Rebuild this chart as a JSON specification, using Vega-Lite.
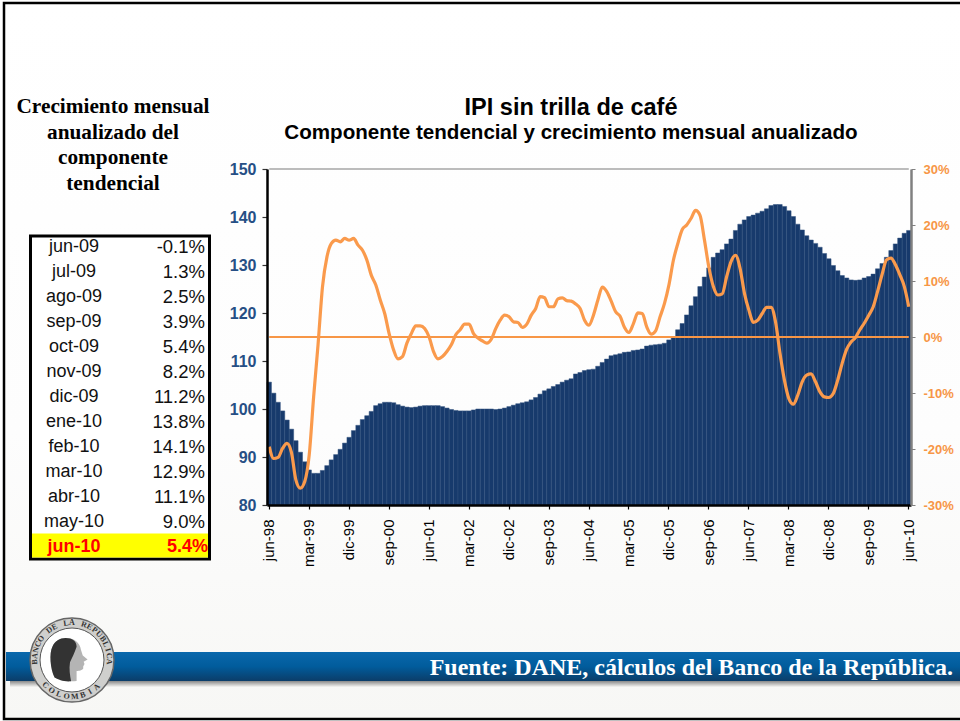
{"$schema":"https://vega.github.io/schema/vega-lite/v6.json","width":960,"height":721,"autosize":"none","padding":0,"background":"white","config":{"view":{"stroke":null},"font":"Liberation Sans"},
"datasets":{
"one":[{"k":"a"}],
"serie":[
{"m":"jun-98","ipi":105.6,"g":-19.6},{"m":"jul-98","ipi":103.3,"g":-21.7},{"m":"ago-98","ipi":101.4,"g":-21.5},{"m":"sep-98","ipi":99.6,"g":-19.9},{"m":"oct-98","ipi":97.7,"g":-19.0},{"m":"nov-98","ipi":95.8,"g":-20.6},{"m":"dic-98","ipi":93.4,"g":-25.5},{"m":"ene-99","ipi":91.0,"g":-27.0},{"m":"feb-99","ipi":89.0,"g":-25.8},{"m":"mar-99","ipi":87.3,"g":-21.1},{"m":"abr-99","ipi":86.6,"g":-10.7},{"m":"may-99","ipi":86.6,"g":-1.3},
{"m":"jun-99","ipi":87.2,"g":9.0},{"m":"jul-99","ipi":88.2,"g":14.3},{"m":"ago-99","ipi":89.4,"g":16.7},{"m":"sep-99","ipi":90.5,"g":17.3},{"m":"oct-99","ipi":91.6,"g":17.0},{"m":"nov-99","ipi":92.9,"g":17.6},{"m":"dic-99","ipi":94.1,"g":17.3},{"m":"ene-00","ipi":95.5,"g":17.6},{"m":"feb-00","ipi":96.6,"g":16.4},{"m":"mar-00","ipi":97.8,"g":15.5},{"m":"abr-00","ipi":98.6,"g":13.7},{"m":"may-00","ipi":99.5,"g":11.0},
{"m":"jun-00","ipi":100.7,"g":9.3},{"m":"jul-00","ipi":101.1,"g":6.6},{"m":"ago-00","ipi":101.4,"g":4.2},{"m":"sep-00","ipi":101.4,"g":0.6},{"m":"oct-00","ipi":101.3,"g":-2.3},{"m":"nov-00","ipi":100.9,"g":-3.9},{"m":"dic-00","ipi":100.6,"g":-3.5},{"m":"ene-01","ipi":100.4,"g":-1.1},{"m":"feb-01","ipi":100.3,"g":0.6},{"m":"mar-01","ipi":100.4,"g":2.0},{"m":"abr-01","ipi":100.6,"g":2.0},{"m":"may-01","ipi":100.7,"g":1.5},
{"m":"jun-01","ipi":100.7,"g":0.0},{"m":"jul-01","ipi":100.7,"g":-2.6},{"m":"ago-01","ipi":100.7,"g":-3.9},{"m":"sep-01","ipi":100.5,"g":-3.5},{"m":"oct-01","ipi":100.2,"g":-2.6},{"m":"nov-01","ipi":99.9,"g":-1.4},{"m":"dic-01","ipi":99.7,"g":0.4},{"m":"ene-02","ipi":99.6,"g":1.3},{"m":"feb-02","ipi":99.6,"g":2.3},{"m":"mar-02","ipi":99.6,"g":2.3},{"m":"abr-02","ipi":99.8,"g":0.6},{"m":"may-02","ipi":100.0,"g":-0.2},
{"m":"jun-02","ipi":100.0,"g":-0.7},{"m":"jul-02","ipi":100.0,"g":-1.1},{"m":"ago-02","ipi":100.0,"g":-0.4},{"m":"sep-02","ipi":99.9,"g":1.5},{"m":"oct-02","ipi":100.0,"g":3.0},{"m":"nov-02","ipi":100.2,"g":3.9},{"m":"dic-02","ipi":100.5,"g":3.6},{"m":"ene-03","ipi":100.8,"g":2.7},{"m":"feb-03","ipi":101.1,"g":2.6},{"m":"mar-03","ipi":101.3,"g":1.7},{"m":"abr-03","ipi":101.5,"g":2.3},{"m":"may-03","ipi":101.9,"g":3.9},
{"m":"jun-03","ipi":102.4,"g":5.1},{"m":"jul-03","ipi":103.1,"g":7.2},{"m":"ago-03","ipi":103.8,"g":7.0},{"m":"sep-03","ipi":104.2,"g":5.4},{"m":"oct-03","ipi":104.7,"g":5.4},{"m":"nov-03","ipi":105.1,"g":6.8},{"m":"dic-03","ipi":105.6,"g":7.0},{"m":"ene-04","ipi":106.0,"g":6.5},{"m":"feb-04","ipi":106.3,"g":6.4},{"m":"mar-04","ipi":107.3,"g":5.9},{"m":"abr-04","ipi":107.6,"g":5.1},{"m":"may-04","ipi":108.0,"g":3.0},
{"m":"jun-04","ipi":108.2,"g":2.1},{"m":"jul-04","ipi":108.3,"g":3.9},{"m":"ago-04","ipi":108.9,"g":6.6},{"m":"sep-04","ipi":109.7,"g":8.9},{"m":"oct-04","ipi":110.4,"g":8.1},{"m":"nov-04","ipi":111.1,"g":6.4},{"m":"dic-04","ipi":111.3,"g":4.5},{"m":"ene-05","ipi":111.5,"g":3.7},{"m":"feb-05","ipi":111.8,"g":1.7},{"m":"mar-05","ipi":111.9,"g":0.8},{"m":"abr-05","ipi":112.2,"g":2.4},{"m":"may-05","ipi":112.3,"g":4.3},
{"m":"jun-05","ipi":112.5,"g":4.2},{"m":"jul-05","ipi":113.1,"g":1.8},{"m":"ago-05","ipi":113.3,"g":0.5},{"m":"sep-05","ipi":113.4,"g":1.1},{"m":"oct-05","ipi":113.5,"g":3.6},{"m":"nov-05","ipi":113.7,"g":6.0},{"m":"dic-05","ipi":114.4,"g":9.3},{"m":"ene-06","ipi":115.1,"g":13.7},{"m":"feb-06","ipi":116.5,"g":16.7},{"m":"mar-06","ipi":117.8,"g":19.2},{"m":"abr-06","ipi":119.6,"g":20.0},{"m":"may-06","ipi":121.5,"g":21.2},
{"m":"jun-06","ipi":123.4,"g":22.6},{"m":"jul-06","ipi":125.5,"g":21.7},{"m":"ago-06","ipi":127.5,"g":17.3},{"m":"sep-06","ipi":129.4,"g":12.4},{"m":"oct-06","ipi":131.6,"g":9.0},{"m":"nov-06","ipi":132.5,"g":7.5},{"m":"dic-06","ipi":133.2,"g":7.7},{"m":"ene-07","ipi":134.4,"g":10.8},{"m":"feb-07","ipi":135.4,"g":13.5},{"m":"mar-07","ipi":137.2,"g":14.6},{"m":"abr-07","ipi":138.5,"g":12.3},{"m":"may-07","ipi":139.4,"g":7.8},
{"m":"jun-07","ipi":140.1,"g":4.8},{"m":"jul-07","ipi":140.4,"g":2.6},{"m":"ago-07","ipi":140.8,"g":3.0},{"m":"sep-07","ipi":141.2,"g":4.2},{"m":"oct-07","ipi":141.7,"g":5.3},{"m":"nov-07","ipi":142.4,"g":5.3},{"m":"dic-07","ipi":142.6,"g":2.7},{"m":"ene-08","ipi":142.6,"g":-2.9},{"m":"feb-08","ipi":142.2,"g":-7.7},{"m":"mar-08","ipi":141.3,"g":-11.0},{"m":"abr-08","ipi":140.1,"g":-12.0},{"m":"may-08","ipi":138.5,"g":-10.4},
{"m":"jun-08","ipi":137.3,"g":-8.0},{"m":"jul-08","ipi":136.1,"g":-6.8},{"m":"ago-08","ipi":135.2,"g":-6.6},{"m":"sep-08","ipi":134.5,"g":-8.0},{"m":"oct-08","ipi":133.7,"g":-9.8},{"m":"nov-08","ipi":132.4,"g":-10.7},{"m":"dic-08","ipi":131.3,"g":-10.8},{"m":"ene-09","ipi":129.9,"g":-10.1},{"m":"feb-09","ipi":128.8,"g":-7.7},{"m":"mar-09","ipi":127.8,"g":-4.7},{"m":"abr-09","ipi":127.3,"g":-2.2},{"m":"may-09","ipi":126.9,"g":-0.9},
{"m":"jun-09","ipi":126.8,"g":-0.1},{"m":"jul-09","ipi":126.9,"g":1.3},{"m":"ago-09","ipi":127.3,"g":2.5},{"m":"sep-09","ipi":127.6,"g":3.9},{"m":"oct-09","ipi":128.1,"g":5.4},{"m":"nov-09","ipi":129.2,"g":8.2},{"m":"dic-09","ipi":130.3,"g":11.2},{"m":"ene-10","ipi":131.6,"g":13.8},{"m":"feb-10","ipi":133.0,"g":14.1},{"m":"mar-10","ipi":134.4,"g":12.9},{"m":"abr-10","ipi":135.6,"g":11.1},{"m":"may-10","ipi":136.6,"g":9.0},{"m":"jun-10","ipi":137.2,"g":5.4}],
"tabla":[{"mes":"jun-09","v":"-0.1%"},{"mes":"jul-09","v":"1.3%"},{"mes":"ago-09","v":"2.5%"},{"mes":"sep-09","v":"3.9%"},{"mes":"oct-09","v":"5.4%"},{"mes":"nov-09","v":"8.2%"},{"mes":"dic-09","v":"11.2%"},{"mes":"ene-10","v":"13.8%"},{"mes":"feb-10","v":"14.1%"},{"mes":"mar-10","v":"12.9%"},{"mes":"abr-10","v":"11.1%"},{"mes":"may-10","v":"9.0%"},{"mes":"jun-10","v":"5.4%"}],
"cab":[{"t":"Crecimiento mensual"},{"t":"anualizado del"},{"t":"componente"},{"t":"tendencial"}],
"arco1":[{"c":"B","i":0},{"c":"A","i":1},{"c":"N","i":2},{"c":"C","i":3},{"c":"O","i":4},{"c":"D","i":6},{"c":"E","i":7},{"c":"L","i":9},{"c":"A","i":10},{"c":"R","i":12},{"c":"E","i":13},{"c":"P","i":14},{"c":"Ú","i":15},{"c":"B","i":16},{"c":"L","i":17},{"c":"I","i":18},{"c":"C","i":19},{"c":"A","i":20}],
"arco2":[{"c":"C","i":0},{"c":"O","i":1},{"c":"L","i":2},{"c":"O","i":3},{"c":"M","i":4},{"c":"B","i":5},{"c":"I","i":6},{"c":"A","i":7}]
},
"resolve":{"scale":{"x":"independent","y":"independent","theta":"independent","angle":"independent"}},
"layer":[
{"data":{"name":"one"},"mark":{"type":"rect","stroke":"#000000","strokeWidth":2.5,"fill":{"gradient":"linear","x1":0,"y1":0,"x2":0,"y2":1,"stops":[{"offset":0,"color":"#ffffff"},{"offset":0.6,"color":"#fdfdfd"},{"offset":1,"color":"#f7f7f5"}]}},"encoding":{"x":{"field":"k","type":"nominal","axis":null,"scale":{"type":"band","padding":0,"range":[4,1010]}},"y":{"field":"k","type":"nominal","axis":null,"scale":{"type":"band","padding":0,"range":[3,719]}}}},
{"data":{"name":"one"},"mark":{"type":"rect","fill":{"gradient":"linear","x1":0,"y1":0,"x2":0,"y2":1,"stops":[{"offset":0,"color":"#777777"},{"offset":1,"color":"#f5f5f3"}]}},"encoding":{"x":{"field":"k","type":"nominal","axis":null,"scale":{"type":"band","padding":0,"range":[10,1010]}},"y":{"field":"k","type":"nominal","axis":null,"scale":{"type":"band","padding":0,"range":[680,687]}}}},
{"data":{"name":"one"},"mark":{"type":"rect","fill":{"gradient":"linear","x1":0,"y1":0,"x2":0,"y2":1,"stops":[{"offset":0,"color":"#0a68ac"},{"offset":0.5,"color":"#015c9c"},{"offset":1,"color":"#0b3d69"}]}},"encoding":{"x":{"field":"k","type":"nominal","axis":null,"scale":{"type":"band","padding":0,"range":[6,1010]}},"y":{"field":"k","type":"nominal","axis":null,"scale":{"type":"band","padding":0,"range":[652,681]}}}},
{"data":{"values":[{"t":"Fuente: DANE, cálculos del Banco de la República."}]},"mark":{"type":"text","font":"Liberation Serif","fontWeight":"bold","fontSize":24,"color":"#ffffff","align":"right","baseline":"middle"},"encoding":{"text":{"field":"t"},"x":{"field":"t","type":"nominal","axis":null,"scale":{"type":"band","padding":0,"range":[948,958]}},"y":{"field":"t","type":"nominal","axis":null,"scale":{"type":"band","padding":0,"range":[658,678]}}}},
{"data":{"name":"cab"},"mark":{"type":"text","font":"Liberation Serif","fontWeight":"bold","fontSize":21.3,"color":"#000000","baseline":"middle"},"encoding":{"text":{"field":"t"},"x":{"datum":"c","type":"nominal","axis":null,"scale":{"type":"band","padding":0,"domain":["c"],"range":[103,123]}},"y":{"field":"t","type":"nominal","sort":null,"axis":null,"scale":{"type":"band","padding":0,"range":[94,197]}}}},
{"data":{"name":"one"},"mark":{"type":"rect","fill":"#ffffff","stroke":"#000000","strokeWidth":3},"encoding":{"x":{"field":"k","type":"nominal","axis":null,"scale":{"type":"band","padding":0,"range":[30.5,209.5]}},"y":{"field":"k","type":"nominal","axis":null,"scale":{"type":"band","padding":0,"range":[236,559]}}}},
{"data":{"name":"tabla"},"transform":[{"filter":"datum.mes == 'jun-10'"}],"mark":{"type":"rect","fill":"#ffff00"},"encoding":{"x":{"datum":"c","type":"nominal","axis":null,"scale":{"type":"band","padding":0,"domain":["c"],"range":[32,208]}},"y":{"field":"mes","type":"nominal","axis":null,"scale":{"type":"band","padding":0,"range":[533.5,557.5]}}}},
{"data":{"name":"tabla"},"transform":[{"filter":"datum.mes != 'jun-10'"}],"mark":{"type":"text","fontSize":18,"color":"#111111","baseline":"middle"},"encoding":{"text":{"field":"mes"},"x":{"datum":"c","type":"nominal","axis":null,"scale":{"type":"band","padding":0,"domain":["c"],"range":[64,84]}},"y":{"field":"mes","type":"nominal","sort":null,"axis":null,"scale":{"type":"band","padding":0,"range":[234.5,534]}}}},
{"data":{"name":"tabla"},"transform":[{"filter":"datum.mes != 'jun-10'"}],"mark":{"type":"text","fontSize":18.5,"color":"#111111","baseline":"middle","align":"right"},"encoding":{"text":{"field":"v"},"x":{"datum":"c","type":"nominal","axis":null,"scale":{"type":"band","padding":0,"domain":["c"],"range":[200,210]}},"y":{"field":"mes","type":"nominal","sort":null,"axis":null,"scale":{"type":"band","padding":0,"range":[234.5,534]}}}},
{"data":{"name":"tabla"},"transform":[{"filter":"datum.mes == 'jun-10'"}],"mark":{"type":"text","fontSize":18,"fontWeight":"bold","color":"#ff0000","baseline":"middle"},"encoding":{"text":{"field":"mes"},"x":{"datum":"c","type":"nominal","axis":null,"scale":{"type":"band","padding":0,"domain":["c"],"range":[64,84]}},"y":{"field":"mes","type":"nominal","axis":null,"scale":{"type":"band","padding":0,"range":[534,559]}}}},
{"data":{"name":"tabla"},"transform":[{"filter":"datum.mes == 'jun-10'"}],"mark":{"type":"text","fontSize":18,"fontWeight":"bold","color":"#ff0000","baseline":"middle","align":"right"},"encoding":{"text":{"field":"v"},"x":{"datum":"c","type":"nominal","axis":null,"scale":{"type":"band","padding":0,"domain":["c"],"range":[203,213]}},"y":{"field":"mes","type":"nominal","axis":null,"scale":{"type":"band","padding":0,"range":[534,559]}}}},
{"data":{"values":[{"t":"IPI sin trilla de café"}]},"mark":{"type":"text","fontSize":23.5,"fontWeight":"bold","color":"#000000","baseline":"middle"},"encoding":{"text":{"field":"t"},"x":{"field":"t","type":"nominal","axis":null,"scale":{"type":"band","padding":0,"range":[561,581]}},"y":{"field":"t","type":"nominal","axis":null,"scale":{"type":"band","padding":0,"range":[98,118]}}}},
{"data":{"values":[{"t":"Componente tendencial y crecimiento mensual anualizado"}]},"mark":{"type":"text","fontSize":20.6,"fontWeight":"bold","color":"#000000","baseline":"middle"},"encoding":{"text":{"field":"t"},"x":{"field":"t","type":"nominal","axis":null,"scale":{"type":"band","padding":0,"range":[561,581]}},"y":{"field":"t","type":"nominal","axis":null,"scale":{"type":"band","padding":0,"range":[123,143]}}}},
{"data":{"name":"serie"},"mark":{"type":"line","color":"#a6a6a6","strokeWidth":1.5},"encoding":{"x":{"field":"m","type":"nominal","sort":null,"axis":null,"scale":{"type":"band","padding":0,"range":[267,911]}},"y":{"datum":150,"type":"quantitative","axis":null,"scale":{"domain":[80,150],"range":[505,169],"nice":false,"zero":false}}}},
{"data":{"name":"serie"},"mark":{"type":"bar","fill":"#173a6c","stroke":"#33527f","strokeWidth":0.5},"encoding":{"x":{"field":"m","type":"nominal","sort":null,"scale":{"type":"band","padding":0,"range":[267,911]},"axis":{"orient":"bottom","offset":-216,"title":null,"values":["jun-98","mar-99","dic-99","sep-00","jun-01","mar-02","dic-02","sep-03","jun-04","mar-05","dic-05","sep-06","jun-07","mar-08","dic-08","sep-09","jun-10"],"labelAngle":-90,"labelAlign":"right","labelBaseline":"middle","labelFontSize":15,"labelFont":"Liberation Sans","labelColor":"#000000","labelPadding":10,"labelOverlap":false,"labelBound":false,"labelFlush":false,"domainColor":"#000000","domainWidth":2.5,"tickColor":"#000000","tickSize":4,"tickWidth":1.2,"grid":false,"zindex":1}},"y":{"field":"ipi","type":"quantitative","scale":{"domain":[80,150],"range":[505,169],"nice":false,"zero":false,"clamp":true},"axis":{"orient":"left","offset":-267,"title":null,"values":[80,90,100,110,120,130,140,150],"labelFontSize":16,"labelFontWeight":"bold","labelFont":"Liberation Sans","labelColor":"#264f85","labelPadding":6,"labelBound":false,"labelFlush":false,"domainColor":"#000000","domainWidth":2.5,"tickColor":"#333333","tickSize":5,"tickWidth":1.2,"grid":false,"zindex":1}}}},
{"data":{"name":"serie"},"mark":{"type":"line","color":"#f79646","strokeWidth":2},"encoding":{"x":{"field":"m","type":"nominal","sort":null,"axis":null,"scale":{"type":"band","padding":0,"range":[267,911]}},"y":{"datum":0,"type":"quantitative","axis":null,"scale":{"domain":[-30,30],"range":[505,169],"nice":false,"zero":false}}}},
{"data":{"name":"serie"},"mark":{"type":"line","color":"#fa9a4c","strokeWidth":3.2,"interpolate":"monotone"},"encoding":{"x":{"field":"m","type":"nominal","sort":null,"axis":null,"scale":{"type":"band","padding":0,"range":[267,911]}},"y":{"field":"g","type":"quantitative","scale":{"domain":[-30,30],"range":[505,169],"nice":false,"zero":false},"axis":{"orient":"right","offset":-49,"title":null,"values":[-30,-20,-10,0,10,20,30],"labelExpr":"datum.value + '%'","labelFontSize":13,"labelFontWeight":"bold","labelFont":"Liberation Sans","labelColor":"#f79646","labelPadding":8,"labelBound":false,"labelFlush":false,"domainColor":"#808080","domainWidth":2.5,"tickColor":"#808080","tickSize":4,"tickWidth":1,"grid":false,"zindex":1}}}},
{"data":{"name":"one"},"mark":{"type":"point","shape":"circle","filled":true,"size":7056,"fill":"#cfcfcd","stroke":"#666666","strokeWidth":1.5,"opacity":1},"encoding":{"x":{"field":"k","type":"nominal","axis":null,"scale":{"type":"band","padding":0,"range":[62,82]}},"y":{"field":"k","type":"nominal","axis":null,"scale":{"type":"band","padding":0,"range":[650,670]}}}},
{"data":{"name":"one"},"mark":{"type":"point","shape":"circle","filled":true,"size":4096,"fill":"#ffffff","stroke":"#555555","strokeWidth":1,"opacity":1},"encoding":{"x":{"field":"k","type":"nominal","axis":null,"scale":{"type":"band","padding":0,"range":[62,82]}},"y":{"field":"k","type":"nominal","axis":null,"scale":{"type":"band","padding":0,"range":[650,670]}}}},
{"data":{"name":"one"},"mark":{"type":"point","filled":true,"opacity":1,"size":1936,"fill":"#b4b4b4","shape":"M -0.2 -1 C 0.2 -1 0.45 -0.8 0.5 -0.45 L 0.58 -0.2 L 0.8 -0.02 L 0.62 0.08 L 0.66 0.18 L 0.6 0.3 L 0.6 0.4 C 0.5 0.5 0.35 0.5 0.3 0.5 L 0.3 0.95 C 0 1 -0.4 0.95 -0.7 0.8 C -0.9 0.4 -0.95 -0.3 -0.8 -0.6 C -0.7 -0.85 -0.45 -1 -0.2 -1 Z"},"encoding":{"x":{"field":"k","type":"nominal","axis":null,"scale":{"type":"band","padding":0,"range":[60,80]}},"y":{"field":"k","type":"nominal","axis":null,"scale":{"type":"band","padding":0,"range":[650,670]}}}},
{"data":{"name":"one"},"mark":{"type":"point","filled":true,"opacity":1,"size":1936,"fill":"#333333","shape":"M -0.2 -1 C 0.1 -1 0.3 -0.85 0.3 -0.6 C 0.2 -0.3 0.1 -0.1 0 0.1 C -0.05 0.4 0 0.7 0.05 0.97 C -0.3 1 -0.5 0.9 -0.7 0.8 C -0.9 0.4 -0.95 -0.3 -0.8 -0.6 C -0.7 -0.85 -0.45 -1 -0.2 -1 Z"},"encoding":{"x":{"field":"k","type":"nominal","axis":null,"scale":{"type":"band","padding":0,"range":[60,80]}},"y":{"field":"k","type":"nominal","axis":null,"scale":{"type":"band","padding":0,"range":[650,670]}}}},
{"data":{"name":"arco1"},"mark":{"type":"text","font":"Liberation Serif","fontWeight":"bold","fontSize":8,"color":"#333333","baseline":"middle","radius":37},"encoding":{"text":{"field":"c"},"x":{"datum":"c","type":"nominal","axis":null,"scale":{"type":"band","padding":0,"domain":["c"],"range":[62,82]}},"y":{"datum":"c","type":"nominal","axis":null,"scale":{"type":"band","padding":0,"domain":["c"],"range":[650,670]}},"theta":{"field":"i","type":"quantitative","scale":{"domain":[0,20],"range":[-1.62,1.62]}},"angle":{"field":"i","type":"quantitative","scale":{"domain":[0,20],"range":[-93,93]}}}},
{"data":{"name":"arco2"},"mark":{"type":"text","font":"Liberation Serif","fontWeight":"bold","fontSize":8,"color":"#333333","baseline":"middle","radius":37},"encoding":{"text":{"field":"c"},"x":{"datum":"c","type":"nominal","axis":null,"scale":{"type":"band","padding":0,"domain":["c"],"range":[62,82]}},"y":{"datum":"c","type":"nominal","axis":null,"scale":{"type":"band","padding":0,"domain":["c"],"range":[650,670]}},"theta":{"field":"i","type":"quantitative","scale":{"domain":[0,7],"range":[3.95,2.4]}},"angle":{"field":"i","type":"quantitative","scale":{"domain":[0,7],"range":[46,-43]}}}}
]}
